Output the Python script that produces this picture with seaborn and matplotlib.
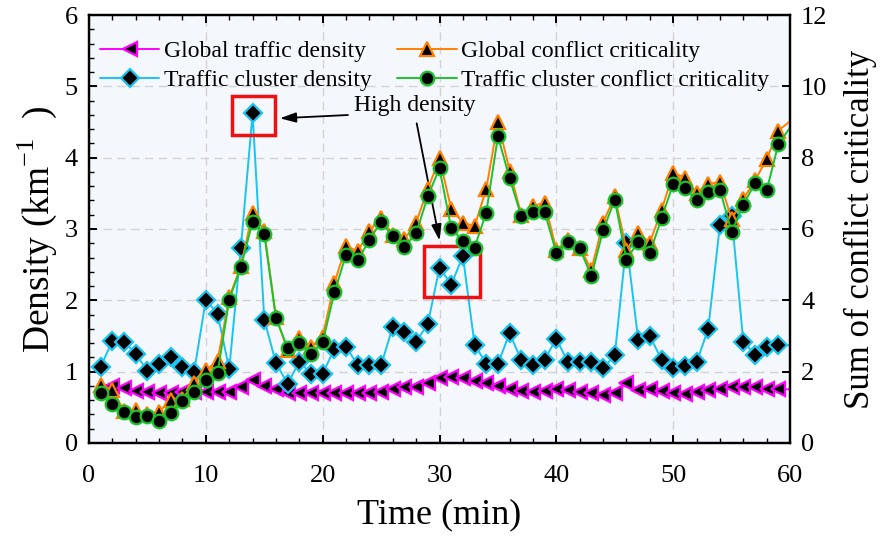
import numpy as np
import pandas as pd
import seaborn as sns
import matplotlib
matplotlib.use("Agg")
from matplotlib import pyplot as plt
from matplotlib.patches import Rectangle
from matplotlib.ticker import MultipleLocator

# time axis (minutes); last point sits just past the axis limit
time_min = list(range(1, 60)) + [61]

global_density = [0.72, 0.80, 0.77, 0.73, 0.71, 0.70, 0.70, 0.71, 0.72, 0.71,
                  0.71, 0.72, 0.79, 0.88, 0.80, 0.76, 0.70, 0.70, 0.70, 0.70,
                  0.70, 0.70, 0.70, 0.70, 0.72, 0.75, 0.78, 0.78, 0.84, 0.91,
                  0.93, 0.91, 0.87, 0.84, 0.80, 0.76, 0.73, 0.72, 0.73, 0.75,
                  0.74, 0.72, 0.70, 0.67, 0.70, 0.84, 0.74, 0.75, 0.73, 0.70,
                  0.69, 0.71, 0.74, 0.76, 0.78, 0.79, 0.78, 0.76, 0.76, 0.74]

cluster_density = [1.07, 1.43, 1.42, 1.25, 1.01, 1.11, 1.20, 1.07, 1.00, 2.01,
                   1.81, 1.04, 2.74, 4.62, 1.73, 1.12, 0.83, 1.14, 0.97, 0.97,
                   1.32, 1.35, 1.09, 1.09, 1.09, 1.63, 1.56, 1.42, 1.67, 2.46,
                   2.22, 2.62, 1.38, 1.11, 1.11, 1.54, 1.16, 1.09, 1.17, 1.46,
                   1.13, 1.14, 1.13, 1.05, 1.23, 2.81, 1.45, 1.50, 1.17, 1.05,
                   1.08, 1.13, 1.60, 3.06, 3.18, 1.42, 1.24, 1.35, 1.37, 1.37]

global_crit = [1.62, 1.48, 0.90, 0.92, 0.80, 0.88, 1.20, 1.24, 1.68, 2.04,
               2.30, 4.08, 4.96, 6.46, 5.94, 3.54, 2.60, 2.94, 2.70, 2.98,
               4.48, 5.52, 5.38, 5.94, 6.32, 5.84, 5.72, 6.18, 7.12, 7.98,
               6.56, 6.18, 6.08, 7.12, 9.00, 7.64, 6.40, 6.64, 6.74, 5.42,
               5.68, 5.48, 4.86, 6.18, 6.92, 5.42, 5.90, 5.62, 6.52, 7.58,
               7.44, 7.02, 7.26, 7.32, 6.28, 6.84, 7.36, 7.96, 8.76, 9.28]

cluster_crit = [1.40, 1.08, 0.86, 0.72, 0.76, 0.62, 0.84, 1.18, 1.44, 1.76,
                1.96, 4.02, 4.94, 6.20, 5.86, 3.50, 2.66, 2.80, 2.50, 2.82,
                4.22, 5.28, 5.12, 5.70, 6.20, 5.80, 5.50, 5.88, 6.92, 7.70,
                6.02, 5.66, 5.48, 6.46, 8.60, 7.42, 6.36, 6.48, 6.48, 5.32,
                5.64, 5.46, 4.68, 5.96, 6.82, 5.14, 5.64, 5.32, 6.30, 7.26,
                7.14, 6.80, 7.04, 7.10, 5.92, 6.68, 7.28, 7.08, 8.38, 9.30]

df = pd.DataFrame({"t": time_min, "gd": global_density, "cd": cluster_density,
                   "gc": global_crit, "cc": cluster_crit})

sns.set_theme(style="ticks")
plt.rcParams["font.family"] = ["Liberation Serif", "DejaVu Serif"]
plt.rcParams["mathtext.fontset"] = "custom"
plt.rcParams["mathtext.rm"] = "Liberation Serif"
for k in ["text.color", "axes.labelcolor", "xtick.color", "ytick.color", "axes.edgecolor"]:
    plt.rcParams[k] = "black"

fig = plt.figure(figsize=(8.84, 5.38), dpi=100)
ax = fig.add_axes([0.1007, 0.1766, 0.7930, 0.7955])
ax.set_facecolor("#f4f7fc")
ax2 = ax.twinx()

mk = dict(markerfacecolor="black", markeredgewidth=1.6, markersize=10.5, linewidth=1.4)
sns.lineplot(data=df, x="t", y="gd", ax=ax, color="#ff00ff", marker="<",
             markeredgecolor="#ff00ff", label="Global traffic density", legend=False, **mk)
sns.lineplot(data=df, x="t", y="cd", ax=ax, color="#19c4f0", marker="D",
             markeredgecolor="#19c4f0", label="Traffic cluster density", legend=False,
             **{**mk, "markersize": 9.2})
sns.lineplot(data=df, x="t", y="gc", ax=ax2, color="#ff8000", marker="^",
             markeredgecolor="#ff8000", label="Global conflict criticality", legend=False, **mk)
sns.lineplot(data=df, x="t", y="cc", ax=ax2, color="#1cc12e", marker="o",
             markeredgecolor="#1cc12e", label="Traffic cluster conflict criticality",
             legend=False, **{**mk, "markersize": 9.8})

ax.set_xlim(0, 60)
ax.set_ylim(0, 6)
ax2.set_ylim(0, 12)
ax.xaxis.set_major_locator(MultipleLocator(10))
ax.xaxis.set_minor_locator(MultipleLocator(2))
ax.yaxis.set_major_locator(MultipleLocator(1))
ax.yaxis.set_minor_locator(MultipleLocator(0.2))
ax2.yaxis.set_major_locator(MultipleLocator(2))

ax.grid(True, which="major", linestyle=(0, (6, 4)), color="#d3d3d3", linewidth=1)
ax.set_axisbelow(True)

for a in (ax, ax2):
    for s in a.spines.values():
        s.set_linewidth(1.6)
        s.set_color("black")
ax.tick_params(axis="x", which="both", direction="in", top=True, labelsize=19, pad=16)
ax.tick_params(axis="y", which="both", direction="in", labelsize=19, pad=8)
ax.tick_params(which="major", length=6, width=1.4)
ax.tick_params(which="minor", length=3.5, width=1.0)
ax2.tick_params(axis="y", direction="in", labelsize=19, length=6, width=1.4, pad=8)

ax.set_xlabel("Time (min)", fontsize=26, labelpad=8)
ax.set_ylabel("Density (km$^{\\mathregular{-1}}$  )", fontsize=27, labelpad=4)
ax2.set_ylabel("Sum of conflict criticality", fontsize=25, labelpad=12)

# highlight boxes and annotation
ax.add_patch(Rectangle((12.25, 4.32), 3.7, 0.55, fill=False, edgecolor="#ee1111", linewidth=2.5, zorder=5))
ax.add_patch(Rectangle((28.7, 2.04), 4.8, 0.72, fill=False, edgecolor="#ee1111", linewidth=2.5, zorder=5))
ax.text(22.7, 4.73, "High density", fontsize=17, va="center", ha="left")
arrow = dict(arrowstyle="-|>,head_length=0.8,head_width=0.25", color="black", lw=1.3)
ax.annotate("", xy=(16.1, 4.55), xytext=(22.4, 4.6), arrowprops=arrow)
ax.annotate("", xy=(30.05, 2.8), xytext=(28.0, 4.52), arrowprops=arrow)

handles = ax.get_lines()[:2] + ax2.get_lines()[:2]
labels = [h.get_label() for h in handles]
ax2.legend(handles, labels, ncol=2, loc="upper left", bbox_to_anchor=(0.0157, 0.94),
           frameon=False, fontsize=17, handlelength=2.5, handletextpad=0.2,
           columnspacing=1.1, labelspacing=0.3, borderpad=0, borderaxespad=0)

fig.savefig("out.png", dpi=100)
